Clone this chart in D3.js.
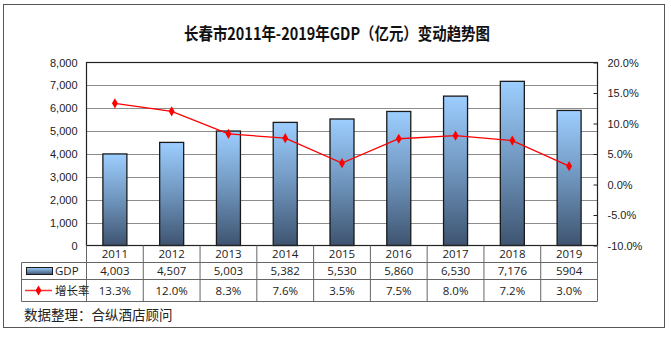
<!DOCTYPE html>
<html>
<head>
<meta charset="utf-8">
<script src="https://cdn.jsdelivr.net/npm/d3@7"></script>
<style>
  html, body { margin: 0; padding: 0; background: #fff; }
  svg { display: block; }
</style>
</head>
<body>
<svg id="chart" width="671" height="340"></svg>
<script>
// Changchun GDP 2011-2019 and year-on-year growth
const years = ["2011", "2012", "2013", "2014", "2015", "2016", "2017", "2018", "2019"];
const gdp = [4003, 4507, 5003, 5382, 5530, 5860, 6530, 7176, 5904];
const gdpLabels = ["4,003", "4,507", "5,003", "5,382", "5,530", "5,860", "6,530", "7,176", "5904"];
const growth = [13.3, 12.0, 8.3, 7.6, 3.5, 7.5, 8.0, 7.2, 3.0];
const leftTicks = [0, 1000, 2000, 3000, 4000, 5000, 6000, 7000, 8000];
const rightTicks = [-10, -5, 0, 5, 10, 15, 20];

const svg = d3.select("#chart");
const plot = { left: 86.5, right: 597.5, top: 62.5, bottom: 245.5 };
const tableLeft = 21.5;
const rowY = [245.5, 262.5, 279.5, 301.5];
const tableFont = "'Open Sans', 'Noto Sans', sans-serif";
const axisFont = "'Liberation Sans', Arial, sans-serif";

// outer frame
svg.append("rect")
  .attr("x", 3.5).attr("y", 4.5).attr("width", 661).attr("height", 323)
  .attr("fill", "#fff").attr("stroke", "#555").attr("stroke-width", 1);

// title
svg.append("text")
  .attr("x", 337).attr("y", 40)
  .attr("text-anchor", "middle")
  .attr("font-family", "'Noto Sans CJK SC', sans-serif")
  .attr("font-weight", "bold")
  .attr("font-size", 16.5)
  .attr("textLength", 306)
  .attr("lengthAdjust", "spacingAndGlyphs")
  .attr("fill", "#111")
  .text("长春市2011年-2019年GDP（亿元）变动趋势图");

const x = d3.scaleBand().domain(years).range([plot.left, plot.right]).paddingInner(0).paddingOuter(0);
const yL = d3.scaleLinear().domain([0, 8000]).range([plot.bottom, plot.top]);
const yR = d3.scaleLinear().domain([-10, 20]).range([plot.bottom, plot.top]);

// bar gradient
const defs = svg.append("defs");
const grad = defs.append("linearGradient").attr("id", "barGrad")
  .attr("x1", 0).attr("y1", 0).attr("x2", 0).attr("y2", 1);
grad.append("stop").attr("offset", "0%").attr("stop-color", "#9dceff");
grad.append("stop").attr("offset", "50%").attr("stop-color", "#6f95bd");
grad.append("stop").attr("offset", "100%").attr("stop-color", "#3e5470");

const gradL = defs.append("linearGradient").attr("id", "legGrad")
  .attr("x1", 0).attr("y1", 0).attr("x2", 0).attr("y2", 1);
gradL.append("stop").attr("offset", "0%").attr("stop-color", "#9dceff");
gradL.append("stop").attr("offset", "100%").attr("stop-color", "#3e5470");

// gridlines
svg.append("g")
  .selectAll("line")
  .data(leftTicks.slice(1, -1))
  .join("line")
  .attr("x1", plot.left).attr("x2", plot.right)
  .attr("y1", d => Math.round(yL(d)) + 0.5).attr("y2", d => Math.round(yL(d)) + 0.5)
  .attr("stroke", "#8c8c8c").attr("stroke-width", 1);

// bars
const bw = 24;
svg.append("g")
  .selectAll("rect")
  .data(gdp)
  .join("rect")
  .attr("x", (d, i) => x(years[i]) + x.bandwidth() / 2 - bw / 2)
  .attr("y", d => yL(d))
  .attr("width", bw)
  .attr("height", d => yL(0) - yL(d))
  .attr("fill", "url(#barGrad)")
  .attr("stroke", "#1a1a1a").attr("stroke-width", 1.3);

// plot frame
svg.append("rect")
  .attr("x", plot.left).attr("y", plot.top)
  .attr("width", plot.right - plot.left).attr("height", plot.bottom - plot.top)
  .attr("fill", "none").attr("stroke", "#222").attr("stroke-width", 1.2);

// left axis labels
const leftAxis = d3.axisLeft(yL).tickValues(leftTicks).tickSize(0).tickPadding(9)
  .tickFormat(d3.format(","));
const gL = svg.append("g").attr("transform", `translate(${plot.left},0)`).call(leftAxis);
gL.select(".domain").remove();
gL.selectAll("text").attr("font-family", axisFont).attr("font-size", 11).attr("fill", "#222");

// right axis labels with short inward ticks
const rightAxis = d3.axisRight(yR).tickValues(rightTicks).tickSize(0).tickPadding(10)
  .tickFormat(d => d.toFixed(1) + "%");
const gR = svg.append("g").attr("transform", `translate(${plot.right},0)`).call(rightAxis);
gR.select(".domain").remove();
gR.selectAll("text").attr("font-family", axisFont).attr("font-size", 11).attr("fill", "#222");
gR.selectAll(".tick").append("line")
  .attr("x1", -4).attr("x2", 0).attr("y1", 0).attr("y2", 0)
  .attr("stroke", "#222");

// growth line
const line = d3.line()
  .x((d, i) => x(years[i]) + x.bandwidth() / 2)
  .y(d => yR(d));
svg.append("path")
  .datum(growth)
  .attr("d", line)
  .attr("fill", "none").attr("stroke", "#ff0000").attr("stroke-width", 1.3);

const marker = d3.symbol().type(d3.symbolDiamond).size(30);
svg.append("g")
  .selectAll("path")
  .data(growth)
  .join("path")
  .attr("d", marker)
  .attr("transform", (d, i) => `translate(${x(years[i]) + x.bandwidth() / 2},${yR(d)})`)
  .attr("fill", "#ff0000");

// data table
const tbl = svg.append("g");
const lineCol = "#666";
[1, 2, 3].forEach(k => {
  tbl.append("line").attr("x1", tableLeft).attr("x2", plot.right)
    .attr("y1", rowY[k]).attr("y2", rowY[k]).attr("stroke", lineCol);
});
const vx = years.map(y => x(y)).concat([plot.right]);
tbl.selectAll("line.v")
  .data(vx)
  .join("line").attr("class", "v")
  .attr("x1", d => d).attr("x2", d => d)
  .attr("y1", rowY[0]).attr("y2", rowY[3]).attr("stroke", lineCol);
tbl.append("line").attr("x1", tableLeft).attr("x2", tableLeft)
  .attr("y1", rowY[1]).attr("y2", rowY[3]).attr("stroke", lineCol);

const rowCenters = [(rowY[0] + rowY[1]) / 2, (rowY[1] + rowY[2]) / 2, (rowY[2] + rowY[3]) / 2];
const rows = [years, gdpLabels, growth.map(d => d.toFixed(1) + "%")];
rows.forEach((vals, r) => {
  tbl.append("g").selectAll("text")
    .data(vals)
    .join("text")
    .attr("x", (d, i) => x(years[i]) + x.bandwidth() / 2)
    .attr("y", rowCenters[r])
    .attr("dy", "0.35em")
    .attr("text-anchor", "middle")
    .attr("font-family", tableFont)
    .attr("font-size", 11.5)
    .attr("fill", "#222")
    .text(d => d);
});

// legend keys inside the table
tbl.append("rect")
  .attr("x", 26.5).attr("y", rowCenters[1] - 3.5).attr("width", 26).attr("height", 7)
  .attr("fill", "url(#legGrad)").attr("stroke", "#1a1a1a").attr("stroke-width", 1);
tbl.append("text")
  .attr("x", 55).attr("y", rowCenters[1]).attr("dy", "0.35em")
  .attr("font-family", tableFont).attr("font-size", 11.5).attr("fill", "#222")
  .text("GDP");
tbl.append("line")
  .attr("x1", 25).attr("x2", 52).attr("y1", rowCenters[2]).attr("y2", rowCenters[2])
  .attr("stroke", "#ff3030").attr("stroke-width", 1.5);
tbl.append("path")
  .attr("d", marker)
  .attr("transform", `translate(38.5,${rowCenters[2]})`)
  .attr("fill", "#ff0000");
tbl.append("text")
  .attr("x", 55).attr("y", rowCenters[2]).attr("dy", "0.35em")
  .attr("font-family", "'Noto Sans CJK SC', sans-serif").attr("font-size", 11.5).attr("fill", "#222")
  .text("增长率");

// source note
svg.append("text")
  .attr("x", 24).attr("y", 320)
  .attr("font-family", "'Noto Sans CJK SC', sans-serif")
  .attr("font-size", 13.5)
  .attr("fill", "#222")
  .text("数据整理：合纵酒店顾问");
</script>
</body>
</html>
